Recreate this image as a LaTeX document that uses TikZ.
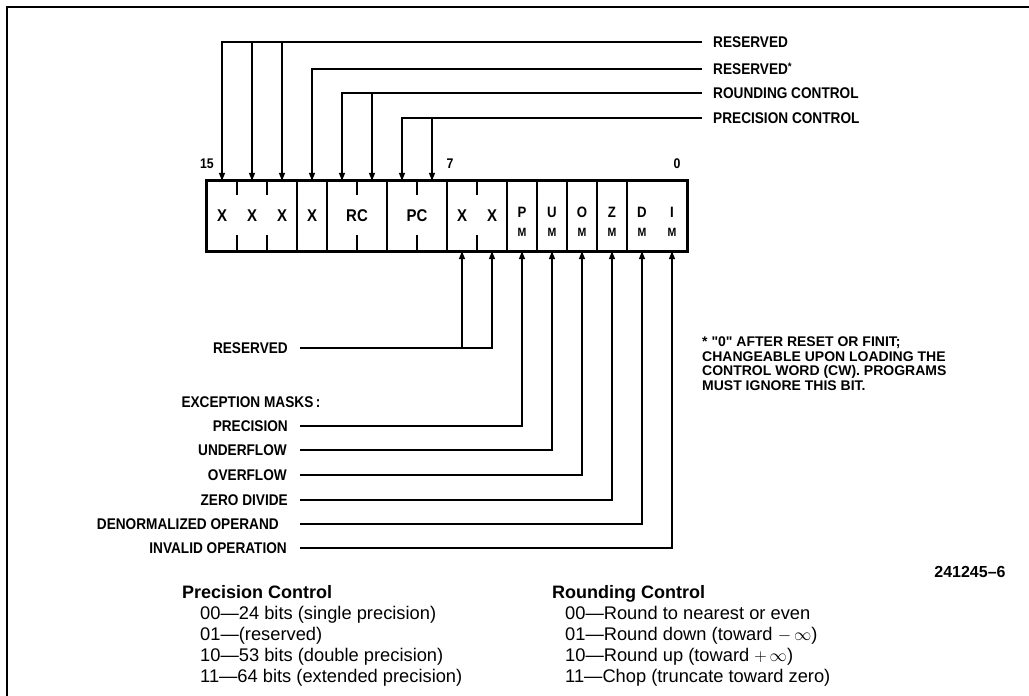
\documentclass[tikz,border=0pt]{standalone}
\usepackage{fontspec}
\setmainfont{Liberation Sans}
\newfontfamily\lblfont{Liberation Sans}[FakeStretch=0.88]
\usetikzlibrary{arrows.meta,calc}
\begin{document}
\begin{tikzpicture}[x=1pt,y=-1pt,
  conn/.style={line width=1.3pt},
  arr/.style={line width=1.4pt,-{Triangle[length=8pt,width=6pt]}},
  bitcell/.style={minimum width=30pt,minimum height=70pt,inner sep=0pt},
  div/.style={line width=2.2pt},
  lab/.style={font=\lblfont\bfseries\fontsize{15.5}{17}\selectfont,inner sep=0pt},
  notetxt/.style={font=\bfseries\fontsize{14}{14.5}\selectfont,inner sep=0pt,align=left},
  celltxt/.style={font=\lblfont\bfseries\fontsize{17}{17}\selectfont,inner sep=0pt},
  mtxt/.style={font=\lblfont\bfseries\fontsize{12}{12}\selectfont,inner sep=0pt},
  numlab/.style={font=\lblfont\bfseries\fontsize{14}{14}\selectfont,inner sep=0pt},
  tabhead/.style={font=\bfseries\fontsize{18}{20}\selectfont,inner sep=0pt,anchor=base west},
  tabitem/.style={font=\fontsize{18.3}{20}\selectfont,inner sep=0pt,anchor=base west},
  figno/.style={font=\bfseries\fontsize{16}{16}\selectfont,inner sep=0pt}
]
\useasboundingbox (0,0) rectangle (1029,696);
% frame
\draw[line width=2pt] (7,696) -- (7,7) -- (1029,7);

% bit cells
\foreach \k in {0,...,15}
  \node[bitcell] (b\k) at ({222+(15-\k)*30},216) {};
\draw[line width=3pt] (b15.north west) rectangle (b0.south east);
\foreach \k in {12,11,9,7,5,4,3,2,1}
  \draw[div] (b\k.north west) -- (b\k.south west);
\foreach \k in {14,13,10,8,6}{
  \draw[div] (b\k.north west) -- ++(0,14);
  \draw[div] (b\k.south west) -- ++(0,-16);
}

% cell texts
\node[celltxt] (t15) at (b15) {X};
\node[celltxt] (t14) at (b14) {X};
\node[celltxt] (t13) at (b13) {X};
\node[celltxt] (t12) at (b12) {X};
\node[celltxt] (trc) at (357,216) {RC};
\node[celltxt] (tpc) at (417,216) {PC};
\node[celltxt] (t7) at (b7) {X};
\node[celltxt] (t6) at (b6) {X};
\foreach \k/\c in {5/P,4/U,3/O,2/Z,1/D,0/I}{
  \node[celltxt,font=\lblfont\bfseries\fontsize{15}{15}\selectfont] (p\k) at ($(b\k)+(0,-4)$) {\c};
  \node[mtxt] (m\k) at ($(b\k)+(0,16)$) {M};
}

% bit numbers
\node[numlab] (n15) at (207,164) {15};
\node[numlab] (n7) at (450,164) {7};
\node[numlab] (n0) at (677,164) {0};

% top labels and connectors
\node[lab,anchor=west,inner xsep=11pt] (lres1) at (702,42) {RESERVED};
\node[lab,anchor=west,inner xsep=11pt] (lres2) at (702,69) {RESERVED\raisebox{0.45ex}{\fontsize{11}{11}\selectfont*}};
\node[lab,anchor=west,inner xsep=11pt] (lrc) at (702,93) {ROUNDING CONTROL};
\node[lab,anchor=west,inner xsep=11pt] (lpc) at (702,118) {PRECISION CONTROL};

\draw[arr] (lres1.west) -| (b15.north);
\draw[arr] (b14 |- lres1.west) -- (b14.north);
\draw[arr] (b13 |- lres1.west) -- (b13.north);
\draw[arr] (lres2.west) -| (b12.north);
\draw[arr] (lrc.west) -| (b11.north);
\draw[arr] (b10 |- lrc.west) -- (b10.north);
\draw[arr] (lpc.west) -| (b9.north);
\draw[arr] (b8 |- lpc.west) -- (b8.north);

% bottom labels and connectors
\node[lab,anchor=east,inner xsep=12pt] (lresb) at (300,348) {RESERVED};
\node[lab] (lexc) at (251,402) {EXCEPTION MASKS\,:};
\node[lab,anchor=east,inner xsep=12pt] (lpm) at (300,426) {PRECISION};
\node[lab,anchor=east,inner xsep=13pt] (lum) at (300,450) {UNDERFLOW};
\node[lab,anchor=east,inner xsep=13pt] (lom) at (300,475) {OVERFLOW};
\node[lab,anchor=east,inner xsep=12pt] (lzm) at (300,500) {ZERO DIVIDE};
\node[lab,anchor=east,inner xsep=21pt] (ldm) at (300,524) {DENORMALIZED OPERAND};
\node[lab,anchor=east,inner xsep=13pt] (lim) at (300,548) {INVALID OPERATION};

\draw[arr] (lresb.east) -| (b6.south);
\draw[arr] (b7 |- lresb.east) -- (b7.south);
\draw[arr] (lpm.east) -| (b5.south);
\draw[arr] (lum.east) -| (b4.south);
\draw[arr] (lom.east) -| (b3.south);
\draw[arr] (lzm.east) -| (b2.south);
\draw[arr] (ldm.east) -| (b1.south);
\draw[arr] (lim.east) -| (b0.south);

% note
\node[notetxt,anchor=north west] (note) at (702,337) {* \textquotedbl 0\textquotedbl{} AFTER RESET OR FINIT;\\CHANGEABLE UPON LOADING THE\\CONTROL WORD (CW). PROGRAMS\\MUST IGNORE THIS BIT.};

% figure number
\node[figno] (fig) at (970,572) {241245--6};

% tables
\node[tabhead] (pch) at (182,598) {Precision Control};
\node[tabitem] (pc0) at (200,619.5) {00---24 bits (single precision)};
\node[tabitem] (pc1) at (200,640.5) {01---(reserved)};
\node[tabitem] (pc2) at (200,661.5) {10---53 bits (double precision)};
\node[tabitem] (pc3) at (200,682) {11---64 bits (extended precision)};

\node[tabhead] (rch) at (552,598) {Rounding Control};
\node[tabitem] (rc0) at (565,619.5) {00---Round to nearest or even};
\node[tabitem] (rc1) at (565,640.5) {01---Round down (toward $-\,\infty$)};
\node[tabitem] (rc2) at (565,661.5) {10---Round up (toward $+\,\infty$)};
\node[tabitem] (rc3) at (565,682) {11---Chop (truncate toward zero)};
\end{tikzpicture}
\end{document}
